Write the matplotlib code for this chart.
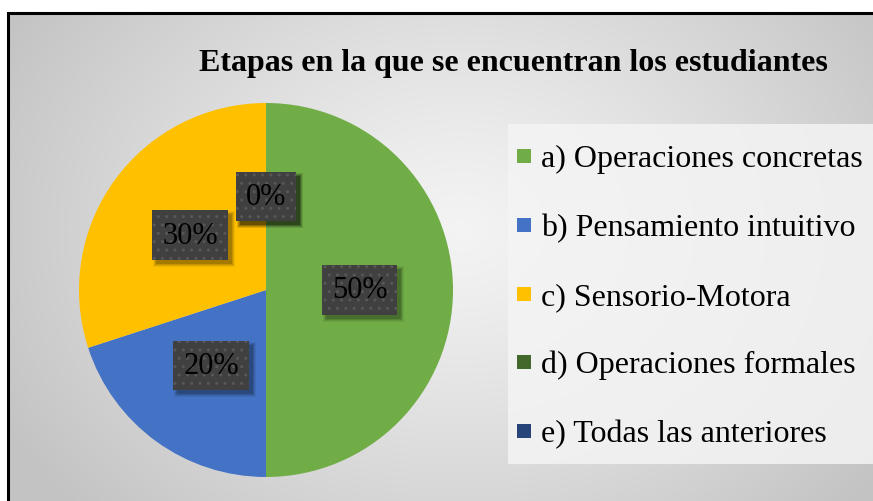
import numpy as np
import matplotlib
matplotlib.use("Agg")
import matplotlib.pyplot as plt
from matplotlib.patches import Rectangle

categories = ["a) Operaciones concretas", "b) Pensamiento intuitivo", "c) Sensorio-Motora",
              "d) Operaciones formales", "e) Todas las anteriores"]
values = [50, 20, 30, 0, 0]
colors = ["#70AD47", "#4472C4", "#FFC000", "#43682B", "#264478"]
title = "Etapas en la que se encuentran los estudiantes"

W, H = 873, 502
fig = plt.figure(figsize=(W / 100, H / 100), dpi=100)
fig.patch.set_facecolor("white")

# background gradient inside the frame
fx0, fy0 = 8, 14  # frame top-left in px
bg = fig.add_axes([fx0 / W, 0, 1 - fx0 / W, 1 - fy0 / H])
bg.set_axis_off()
yy, xx = np.mgrid[fy0:H, fx0:W]
d = np.hypot((xx - 460) / 1.0, (yy - 230) / 0.8)
t = np.clip(d / 520, 0, 1)
g = 0.955 - 0.19 * t ** 1.2
bg.imshow(np.dstack([g, g, g]), aspect="auto", extent=[0, 1, 0, 1], origin="upper")
bg.set_xlim(0, 1); bg.set_ylim(0, 1)

# frame border
fig.patches.append(Rectangle((fx0 / W, -0.05), 1.1, 1 - fy0 / H + 0.05, transform=fig.transFigure,
                             fill=False, ec="black", lw=2.2, zorder=5))

# pie
cx, cy, r = 266, 291, 187
ax = fig.add_axes([(cx - r) / W, (H - cy - r) / H, 2 * r / W, 2 * r / H])
ax.set_axis_off()
wedges, _ = ax.pie(values, colors=colors, startangle=90, counterclock=False, radius=1,
                   wedgeprops=dict(linewidth=0))
ax.set_xlim(-1, 1); ax.set_ylim(-1, 1)

total = sum(values)
ld = 0.5
labels = []
for w, v in zip(wedges, values):
    ang = np.deg2rad((w.theta1 + w.theta2) / 2)
    x, y = ld * np.cos(ang), ld * np.sin(ang)
    lab = f"{v / total * 100:.0f}%"
    tx = ax.text(x, y, lab, ha="center", va="center", fontsize=22, family="Liberation Serif",
                 color="black", zorder=6,
                 bbox=dict(boxstyle="square,pad=0.33", fc="#404040", ec="#575757", lw=0, hatch=".."))
    labels.append(tx)

fig.canvas.draw()
for tx in labels:
    bb = tx.get_bbox_patch().get_window_extent()
    for grow, a in [(3, 0.06), (2, 0.08), (1, 0.11), (0, 0.16)]:
        p = Rectangle(((bb.x0 + 4 - grow) / W, (bb.y0 - 4 - grow) / H),
                      (bb.width + 2 * grow) / W, (bb.height + 2 * grow) / H,
                      transform=fig.transFigure, fc=(0, 0, 0, a), ec="none", zorder=5)
        p.set_clip_on(False)
        ax.add_artist(p)

# title
fig.text(513 / W, 1 - 63 / H, title, ha="center", va="center", fontsize=23,
         fontweight="bold", family="Liberation Serif")

# legend box
lx0, ly0, lx1, ly1 = 508, 125, 880, 465
fig.patches.append(Rectangle((lx0 / W, 1 - ly1 / H), (lx1 - lx0) / W, (ly1 - ly0) / H,
                             transform=fig.transFigure, fc="#f4f4f4", ec="none", alpha=0.85, zorder=2))
rows = [157, 226, 295, 363, 432]
for cat, col, ry in zip(categories, colors, rows):
    fig.patches.append(Rectangle((517 / W, 1 - (ry + 7) / H), 14 / W, 14 / H,
                                 transform=fig.transFigure, fc=col, ec="none", zorder=3))
    fig.text(541 / W, 1 - (ry - 1) / H, cat, ha="left", va="center_baseline", fontsize=23,
             family="Liberation Serif", zorder=4)

fig.savefig("out.png", dpi=100)
